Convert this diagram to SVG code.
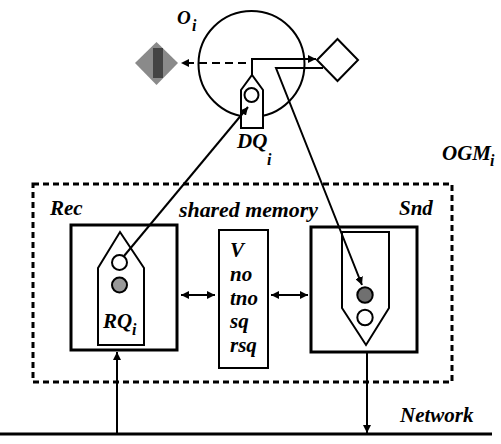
<svg xmlns="http://www.w3.org/2000/svg" width="501" height="444" viewBox="0 0 501 444">
<style>
text{font-family:"Liberation Serif","Times New Roman",serif;font-weight:bold;font-style:italic;fill:#000}
.lb{font-size:21px}
.sub{font-size:16px}
.box{fill:#fff;stroke:#000;stroke-width:3}
.thin{fill:#fff;stroke:#000;stroke-width:2}
.ln{fill:none;stroke:#000;stroke-width:2}
</style>
<defs>
<marker id="ah" viewBox="0 0 10 10" refX="10" refY="5" markerWidth="4" markerHeight="4" orient="auto-start-reverse" markerUnits="strokeWidth">
<path d="M0,0 L10,5 L0,10 z" fill="#000"/>
</marker>
</defs>
<g id="ogm">
<rect x="33" y="184" width="419" height="198" fill="none" stroke="#000" stroke-width="3" stroke-dasharray="6 4"/>
<text class="lb" x="442" y="160">OGM</text><text class="sub" x="490" y="166">i</text>
</g>
<g id="network">
<line x1="0" y1="434" x2="492" y2="434" stroke="#000" stroke-width="3"/>
<text class="lb" x="400" y="422">Network</text>
</g>
<g id="object">
<circle cx="251.5" cy="64" r="53" fill="none" stroke="#000" stroke-width="2"/>
<text x="177" y="24" style="font-size:19px">O</text><text class="sub" x="192" y="31">i</text>
</g>
<g id="gray-diamond">
<polygon points="135,63 156.5,42 178,63 156.5,85" fill="#8a8a8a"/>
<rect x="153" y="48" width="10" height="30" fill="#444"/>
</g>
<g id="white-diamond">
<polygon points="317,60 337.5,39 358,60 337.5,81" class="thin"/>
</g>
<g id="dq">
<polygon points="241,128 241,90 252,75 263,90 263,128" class="thin"/>
<circle cx="251.5" cy="95" r="7" class="thin"/>
<text class="lb" x="237" y="148">DQ</text><text class="sub" x="267" y="165">i</text>
</g>
<g id="rec">
<rect x="71" y="225" width="106" height="125" class="box"/>
<text class="lb" x="50" y="215">Rec</text>
</g>
<g id="rq">
<polygon points="98,345 98,268 120,232 144,268 144,345" class="thin"/>
<circle cx="119.5" cy="262.5" r="7.5" class="thin"/>
<circle cx="119.5" cy="285" r="7.5" fill="#999" stroke="#000" stroke-width="2"/>
<text class="lb" x="103" y="328">RQ</text><text class="sub" x="132" y="335">i</text>
</g>
<g id="shared-memory">
<text class="lb" x="179" y="217" textLength="139" lengthAdjust="spacingAndGlyphs">shared memory</text>
<rect x="219" y="230" width="49" height="138" class="thin"/>
<text class="lb" x="230" y="257">V</text>
<text class="lb" x="230" y="281">no</text>
<text class="lb" x="230" y="305">tno</text>
<text class="lb" x="230" y="328">sq</text>
<text class="lb" x="230" y="352">rsq</text>
</g>
<g id="snd">
<rect x="311" y="227" width="106" height="125" class="box"/>
<text class="lb" x="399" y="215">Snd</text>
</g>
<g id="sq">
<polygon points="342,232 389,232 389,308 366,345 342,308" class="thin"/>
<circle cx="365" cy="295" r="7.7" fill="#707070" stroke="#000" stroke-width="2"/>
<circle cx="365" cy="317.5" r="7.7" class="thin"/>
</g>
<g id="connectors">
<line x1="246" y1="63" x2="181" y2="63" class="ln" stroke-dasharray="8 5" marker-end="url(#ah)"/>
<polyline points="252,75 252,59 316,59" class="ln" marker-end="url(#ah)"/>
<polyline points="323,68 276,68 362,285" class="ln" stroke-width="1.8" marker-end="url(#ah)"/>
<line x1="124" y1="256" x2="248" y2="107" class="ln" marker-end="url(#ah)"/>
<line x1="181" y1="295" x2="215" y2="295" class="ln" marker-start="url(#ah)" marker-end="url(#ah)"/>
<line x1="271" y1="295" x2="308" y2="295" class="ln" marker-start="url(#ah)" marker-end="url(#ah)"/>
<line x1="117" y1="433" x2="117" y2="352" class="ln" stroke-width="2.5" marker-end="url(#ah)"/>
<line x1="367" y1="353" x2="367" y2="433" class="ln" stroke-width="2.5" marker-end="url(#ah)"/>
</g>
</svg>
